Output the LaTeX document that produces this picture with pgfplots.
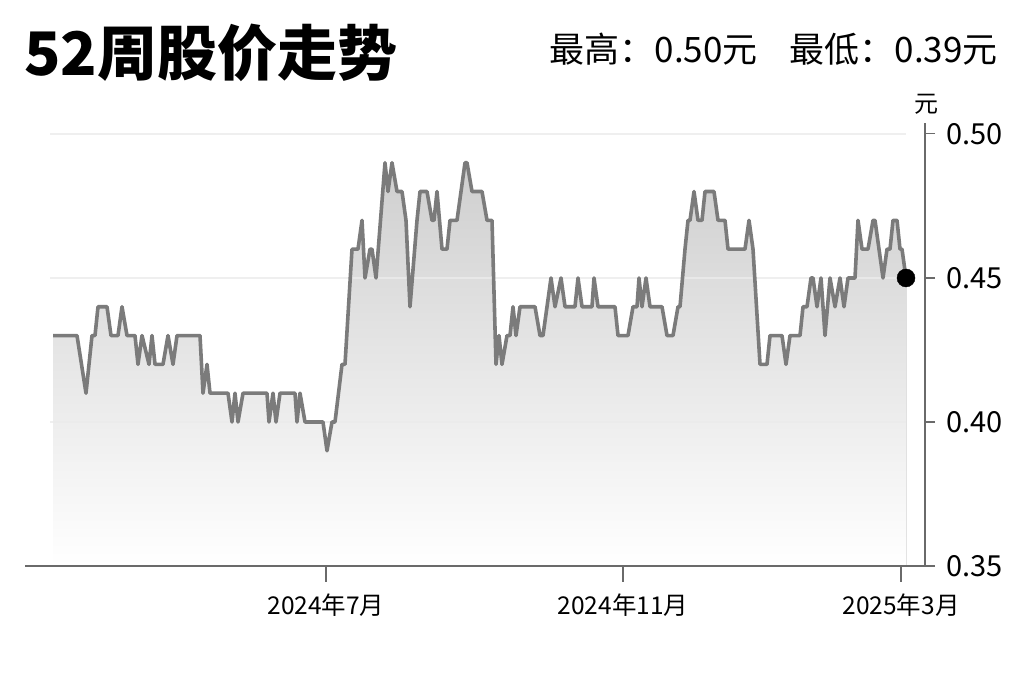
\documentclass[border=0pt]{standalone}
\usepackage{fontspec}
\setmainfont{Noto Sans CJK SC}
\usepackage{pgfplots}
\pgfplotsset{compat=1.18}
\usepackage{pgfplotstable}
\usepgfplotslibrary{fillbetween}

\definecolor{lineg}{HTML}{7B7B7B}
\definecolor{axisg}{HTML}{6A6A6A}
\definecolor{gridg}{HTML}{EBEBEB}

% daily close, x = position along the 52 weeks
\pgfplotstableread{
x y
53 0.43
77 0.43
86 0.41
92 0.43
95 0.43
98 0.44
107 0.44
111 0.43
118 0.43
122 0.44
127 0.43
135 0.43
138 0.42
142 0.43
149 0.42
152 0.43
155 0.42
163 0.42
168 0.43
173 0.42
177 0.43
200 0.43
203 0.41
207 0.42
210 0.41
228 0.41
232 0.40
235 0.41
238 0.40
243 0.41
267 0.41
269 0.40
273 0.41
276 0.40
280 0.41
295 0.41
297 0.40
300 0.41
305 0.40
323 0.40
327 0.39
332 0.40
335 0.40
342 0.42
345 0.42
352 0.46
358 0.46
362 0.47
365 0.45
370 0.46
372 0.46
376 0.45
385 0.49
388 0.48
392 0.49
397 0.48
402 0.48
406 0.47
410 0.44
417 0.47
420 0.48
427 0.48
432 0.47
434 0.47
437 0.48
442 0.46
447 0.46
450 0.47
457 0.47
465 0.49
467 0.49
472 0.48
482 0.48
487 0.47
492 0.47
496 0.42
499 0.43
502 0.42
507 0.43
510 0.43
513 0.44
516 0.43
520 0.44
535 0.44
540 0.43
543 0.43
547 0.44
551 0.45
555 0.44
561 0.45
565 0.44
575 0.44
578 0.45
582 0.44
592 0.44
594 0.45
598 0.44
615 0.44
618 0.43
628 0.43
633 0.44
637 0.44
639 0.45
642 0.44
646 0.45
650 0.44
662 0.44
667 0.43
673 0.43
678 0.44
680 0.44
685 0.46
688 0.47
690 0.47
694 0.48
698 0.47
702 0.47
705 0.48
714 0.48
718 0.47
725 0.47
728 0.46
745 0.46
749 0.47
753 0.46
760 0.42
767 0.42
770 0.43
782 0.43
786 0.42
790 0.43
800 0.43
803 0.44
807 0.44
811 0.45
813 0.45
817 0.44
821 0.45
825 0.43
830 0.45
835 0.44
840 0.45
844 0.44
848 0.45
855 0.45
858 0.47
862 0.46
868 0.46
873 0.47
875 0.47
883 0.45
887 0.46
890 0.46
893 0.47
897 0.47
900 0.46
902 0.46
906 0.45
}\price

\begin{document}
\begin{tikzpicture}
\path (0pt,0pt) rectangle (1024pt,682pt);

\node[anchor=base west, inner sep=0pt, font=\fontsize{60}{64}\selectfont\bfseries]
  at (24pt,606pt) {52周股价走势};
\node[anchor=base east, inner sep=0pt, font=\fontsize{35}{38}\selectfont]
  at (998pt,619pt) {最高：0.50元\hspace{32pt}最低：0.39元};
\node[inner sep=0pt, font=\fontsize{24}{26}\selectfont] at (926pt,578pt) {元};

\begin{axis}[
  at={(25pt,116pt)}, anchor=south west,
  scale only axis, width=900pt, height=443pt,
  xmin=25, xmax=925, ymin=0.35, ymax=0.5038,
  axis x line*=bottom, axis y line*=right,
  axis line style={axisg, line width=1.3pt},
  axis on top,
  clip=false,
  tick align=outside,
  major tick length=16pt,
  xtick style={axisg, line width=1.1pt},
  ytick style={axisg, line width=1.1pt, /pgfplots/major tick length=10pt},
  xtick={326,623,901},
  xticklabels={2024年7月,2024年11月,2025年3月},
  ytick={0.35,0.40,0.45,0.50},
  yticklabel style={font=\fontsize{29}{31}\selectfont, xshift=2pt,
    /pgf/number format/.cd, fixed, fixed zerofill, precision=2},
  xticklabel style={font=\fontsize{24.5}{26}\selectfont, yshift=-8pt},
  /pgf/number format/assume math mode=true,
]
\addplot[draw=none, name path=price, forget plot] table[x=x, y=y] {\price};
\path[name path=base] (axis cs:53,0.35) -- (axis cs:906,0.35);
\addplot[draw=none, top color=black!19, bottom color=white] fill between[of=price and base];

\draw[gridg, line width=2pt, opacity=0.8] (axis cs:50,0.40) -- (axis cs:906,0.40);
\draw[gridg, line width=2pt, opacity=0.8] (axis cs:50,0.45) -- (axis cs:906,0.45);
\draw[gridg, line width=2pt, opacity=0.8] (axis cs:50,0.50) -- (axis cs:906,0.50);

\addplot[lineg, line width=3.6pt, line join=round, mark=none] table[x=x, y=y] {\price};
\addplot[only marks, mark=*, mark size=9pt, black] coordinates {(906,0.45)};
\end{axis}
\end{tikzpicture}
\end{document}
